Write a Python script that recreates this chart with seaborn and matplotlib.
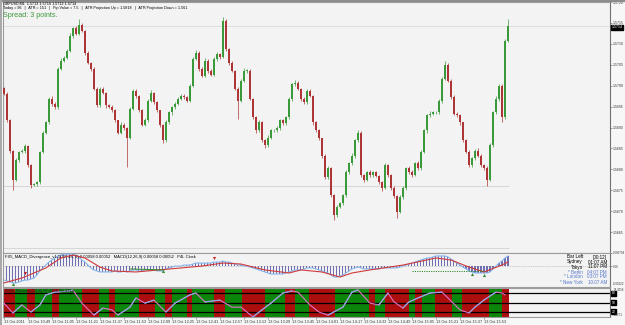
import matplotlib
matplotlib.use("Agg")
import numpy as np
import pandas as pd
import matplotlib.pyplot as plt
import matplotlib.transforms as mtransforms
from matplotlib.lines import Line2D
import seaborn as sns

# ---------------- data ----------------
symbol_line = "GBPUSD,M1  1.5713 1.5716 1.5712 1.5714"
info_line = ("Today = 96   |   ATR = 151   |   Pip Value = 7.5   |   "
             "ATR Projection Up = 1.5818   |   ATR Projection Down = 1.561")
spread_text = "Spread: 3 points."
macd_title = ("FX5_MACD_Divergence_v1.1(12, 26, 9) 0.00058 0.00052   "
              "MACD(12,26,9) 0.00058 0.00052   P4L Clock")
dss_title = "DSS_Bressert(13,8) 97.4256 94.4914"
start_time = "2011-10-13 10:33"
minutes_per_bar = 2

first_open = 1.56995
closes = [
    1.56981, 1.56917, 1.56845, 1.56774, 1.56822, 1.56841, 1.56845, 1.56855, 1.56810, 1.56762,
    1.56764, 1.56769, 1.56841, 1.56886, 1.56912, 1.56969, 1.56957, 1.56948, 1.57041, 1.57060,
    1.57067, 1.57083, 1.57119, 1.57138, 1.57124, 1.57145, 1.57131, 1.57079, 1.57055, 1.57041,
    1.56993, 1.56953, 1.56993, 1.56983, 1.56953, 1.56950, 1.56941, 1.56917, 1.56888, 1.56907,
    1.56898, 1.56876, 1.56945, 1.56988, 1.56976, 1.56941, 1.56907, 1.56917, 1.56964, 1.56983,
    1.56960, 1.56941, 1.56905, 1.56869, 1.56912, 1.56936, 1.56948, 1.56957, 1.56969, 1.56976,
    1.56974, 1.56964, 1.57000, 1.57064, 1.57079, 1.57041, 1.57024, 1.57060, 1.57036, 1.57026,
    1.57064, 1.57076, 1.57069, 1.57155, 1.57088, 1.57055, 1.57036, 1.56993, 1.56964, 1.57012,
    1.57036, 1.57036, 1.56969, 1.56924, 1.56893, 1.56912, 1.56869, 1.56857, 1.56876, 1.56893,
    1.56893, 1.56898, 1.56917, 1.56910, 1.56924, 1.56969, 1.57003, 1.57007, 1.56993, 1.56969,
    1.56960, 1.56988, 1.56976, 1.56912, 1.56893, 1.56874, 1.56833, 1.56781, 1.56803, 1.56738,
    1.56691, 1.56710, 1.56719, 1.56738, 1.56793, 1.56815, 1.56833, 1.56869, 1.56888, 1.56786,
    1.56774, 1.56793, 1.56786, 1.56793, 1.56784, 1.56769, 1.56755, 1.56810, 1.56786, 1.56755,
    1.56736, 1.56698, 1.56733, 1.56755, 1.56803, 1.56793, 1.56786, 1.56815, 1.56803, 1.56841,
    1.56893, 1.56929, 1.56933, 1.56936, 1.56936, 1.56964, 1.57017, 1.57050, 1.57012, 1.56972,
    1.56933, 1.56929, 1.56912, 1.56869, 1.56841, 1.56810, 1.56826, 1.56845, 1.56833, 1.56810,
    1.56803, 1.56774, 1.56857, 1.56936, 1.56969, 1.57000, 1.56924, 1.57107, 1.57143,
]
# wick lengths above / below the body, in points (0.00001)
wick_up_pts = [
    3, 4, 3, 2, 5, 3, 4, 6, 3, 2,   4, 3, 2, 5, 3, 4, 6, 3, 4, 5,
    3, 4, 6, 3, 5, 15, 4, 3, 5, 2,  4, 3, 5, 4, 3, 2, 4, 3, 2, 5,
    3, 4, 5, 3, 4, 2, 3, 5, 4, 6,   3, 4, 2, 3, 5, 4, 3, 4, 5, 3,
    4, 2, 5, 4, 6, 3, 4, 5, 3, 4,   5, 4, 3, 8, 4, 3, 5, 2, 4, 5,
    6, 3, 4, 2, 3, 5, 3, 4, 6, 3,   4, 5, 3, 4, 3, 5, 4, 6, 3, 2,
    4, 5, 3, 2, 4, 3, 2, 4, 5, 3,   4, 5, 3, 4, 5, 3, 6, 4, 5, 3,
    4, 3, 5, 4, 3, 2, 4, 6, 3, 2,   4, 3, 5, 4, 3, 4, 5, 3, 4, 5,
    3, 4, 6, 3, 4, 5, 4, 10, 3, 4,  5, 3, 4, 2, 3, 5, 4, 3, 5, 4,
    3, 4, 5, 4, 6, 4, 3, 5, 17,
]
wick_dn_pts = [
    4, 3, 5, 24, 3, 4, 3, 5, 4, 7,  3, 5, 4, 3, 2, 4, 5, 3, 4, 3,
    4, 3, 2, 5, 3, 4, 3, 5, 4, 6,   3, 5, 4, 3, 6, 4, 3, 5, 4, 3,
    5, 71, 3, 4, 5, 3, 4, 3, 5, 4,  3, 5, 4, 6, 3, 4, 5, 3, 4, 3,
    5, 4, 3, 4, 3, 5, 4, 3, 6, 4,   3, 4, 5, 3, 4, 5, 3, 4, 43, 3,
    4, 5, 3, 4, 6, 3, 4, 5, 3, 4,   3, 4, 5, 3, 4, 3, 5, 4, 3, 5,
    4, 3, 4, 5, 3, 4, 6, 5, 4, 5,   12, 4, 3, 5, 4, 3, 4, 5, 3, 4,
    5, 3, 4, 5, 3, 4, 6, 3, 4, 5,   4, 14, 3, 4, 5, 3, 4, 3, 5, 4,
    3, 5, 4, 3, 4, 3, 5, 4, 3, 5,   4, 3, 5, 4, 3, 5, 4, 3, 4, 5,
    4, 14, 3, 4, 3, 5, 12, 4, 3,
]
current_price = 1.5714
bid_line = 1.57143
level_lines = [1.56760, 1.56612]
price_ticks = [1.5665, 1.5670, 1.5675, 1.5680, 1.5685, 1.5690, 1.5695,
               1.5700, 1.5705, 1.5710, 1.5715, 1.5720]

macd = [
    -0.00081, -0.00086, -0.00092, -0.00098, -0.00098, -0.00092, -0.00086, -0.00081, -0.00081, -0.00075,
    -0.00069, -0.00051, -0.00027, -0.00009, 0.00008, 0.00026, 0.00038, 0.00050, 0.00062, 0.00067,
    0.00073, 0.00073, 0.00073, 0.00073, 0.00067, 0.00056, 0.00038, 0.00026, 0.00008, -0.00009,
    -0.00021, -0.00027, -0.00033, -0.00033, -0.00033, -0.00033, -0.00033, -0.00027, -0.00033, -0.00033,
    -0.00027, -0.00033, -0.00027, -0.00021, -0.00021, -0.00027, -0.00027, -0.00021, -0.00021, -0.00021,
    -0.00021, -0.00027, -0.00027, -0.00027, -0.00015, -0.00009, -0.00004, 0.00002, 0.00002, 0.00002,
    0.00008, 0.00008, 0.00008, 0.00014, 0.00020, 0.00020, 0.00020, 0.00020, 0.00020, 0.00020,
    0.00026, 0.00026, 0.00026, 0.00032, 0.00026, 0.00026, 0.00020, 0.00014, 0.00008, 0.00008,
    0.00002, 0.00002, -0.00004, -0.00009, -0.00015, -0.00021, -0.00027, -0.00033, -0.00039, -0.00045,
    -0.00045, -0.00045, -0.00045, -0.00045, -0.00039, -0.00033, -0.00027, -0.00021, -0.00021, -0.00021,
    -0.00015, -0.00009, -0.00009, -0.00009, -0.00015, -0.00021, -0.00027, -0.00033, -0.00039, -0.00051,
    -0.00063, -0.00063, -0.00057, -0.00051, -0.00039, -0.00027, -0.00015, -0.00009, -0.00004, -0.00009,
    -0.00015, -0.00015, -0.00015, -0.00015, -0.00015, -0.00015, -0.00009, -0.00009, -0.00009, -0.00009,
    -0.00009, -0.00009, -0.00004, 0.00002, 0.00008, 0.00014, 0.00020, 0.00026, 0.00032, 0.00038,
    0.00044, 0.00050, 0.00050, 0.00056, 0.00062, 0.00062, 0.00062, 0.00062, 0.00056, 0.00044,
    0.00032, 0.00020, 0.00008, -0.00004, -0.00015, -0.00027, -0.00033, -0.00039, -0.00039, -0.00039,
    -0.00039, -0.00039, -0.00033, -0.00015, 0.00002, 0.00020, 0.00032, 0.00050, 0.00062,
]
signal_bar = [0, 6, 14, 19, 23, 27, 32, 36, 44, 66, 73, 79, 87, 95, 99, 106, 112,
              116, 122, 133, 144, 149, 155, 160, 166, 168]
signal_val = [-0.00098, -0.00069, -0.00009, 0.00050, 0.00067, 0.00050, -0.00004,
              -0.00027, -0.00033, 0.00002, 0.00020, 0.00014, -0.00021, -0.00039,
              -0.00021, -0.00033, -0.00063, -0.00039, -0.00021, 0.00008, 0.00050,
              0.00038, -0.00004, -0.00033, 0.00008, 0.00026]
arrow_up_bar = [3, 53, 156, 160]
arrow_up_val = [-0.00104, -0.00027, -0.00045, -0.00051]
arrow_dn_bar = [7, 70]
arrow_dn_val = [-0.00039, 0.00050]
div_solid_bar = [42, 53]
div_solid_val = [-0.00015, -0.00021]
div_dot_bar = [136, 160]
div_dot_val = [-0.00027, -0.00027]
macd_top, macd_bottom = 0.000794, -0.00122

osc_bar = [0, 3, 6, 9, 12, 14, 17, 22, 23, 26, 30, 33, 36, 38, 42, 44, 47, 50, 54,
           57, 62, 64, 67, 72, 76, 79, 83, 86, 89, 93, 96, 98, 102, 105, 108, 113,
           116, 118, 122, 125, 128, 130, 133, 135, 138, 142, 146, 148, 152, 155,
           157, 160, 164, 166, 167]
osc_val = [48, 16, 42, 19, 42, 75, 84, 88, 91, 48, 9, 32, 26, 9, 35, 65, 48, 58, 19,
           48, 75, 81, 52, 58, 35, 35, 3, 26, 48, 81, 88, 84, 42, 19, 9, 35,
           84, 91, 48, 42, 81, 52, 32, 52, 65, 81, 84, 65, 26, 16,
           35, 58, 84, 81, 75]
osc_levels = [80, 50, 20]
osc_top, osc_bottom = 97.4256, 2.8271
band_edges = [-0.7, 3.7, 7.7, 10.3, 16, 18.3, 26, 31.7, 35, 37, 45, 50.3, 53.7, 56,
              61, 62.7, 70, 73.7, 79.3, 87, 93.7, 97, 101.7, 110.3, 121.7, 123.7,
              127, 135, 137, 139.3, 143.7, 149.3, 152.7, 161.7, 166, 168.5]
band_state = ["dn", "up", "dn", "up", "dn", "up", "dn", "up", "dn", "up", "dn", "up",
              "dn", "up", "dn", "up", "dn", "up", "dn", "up", "dn", "up", "dn", "up",
              "dn", "up", "dn", "up", "dn", "up", "dn", "up", "dn", "up", "dn"]

tick_labels = ["13 Oct 2011", "13 Oct 10:49", "13 Oct 11:05", "13 Oct 11:21",
               "13 Oct 11:37", "13 Oct 11:53", "13 Oct 12:09", "13 Oct 12:25",
               "13 Oct 12:41", "13 Oct 12:57", "13 Oct 13:13", "13 Oct 13:29",
               "13 Oct 13:45", "13 Oct 14:01", "13 Oct 14:17", "13 Oct 14:33",
               "13 Oct 14:49", "13 Oct 15:05", "13 Oct 15:21", "13 Oct 15:37",
               "13 Oct 15:53"]
label_every_minutes = 16

clock_names = ["Bar Left", "Sydney", "Tokyo", "* Berlin", "* London", "* New York"]
clock_values = ["[00:12]", "01:07 AM", "11:07 PM", "04:07 PM", "03:07 PM", "10:07 AM"]
clock_local = [True, True, True, False, False, False]

# ---------------- styling ----------------
sns.set_theme(style="white")
plt.rcParams["font.family"] = ["Liberation Sans", "DejaVu Sans"]

BG = "#f3f3f3"
BULL, BEAR = "#3a9a3a", "#ad3535"
SPINE = "#9c9c9c"
TXT = "#333333"
TICK_FS = 2.5

n = len(closes)
bars = np.arange(n)
opens = [first_open] + closes[:-1]
df = pd.DataFrame({"bar": bars, "open": opens, "close": closes,
                   "up": wick_up_pts, "dn": wick_dn_pts, "macd": macd})
df["high"] = df[["open", "close"]].max(axis=1) + df["up"] * 1e-5
df["low"] = df[["open", "close"]].min(axis=1) - df["dn"] * 1e-5
df["bull"] = df["close"] >= df["open"]
df["time"] = pd.date_range(start_time, periods=n, freq=f"{minutes_per_bar}min")

W, H = 625, 325
fig = plt.figure(figsize=(W / 100, H / 100), dpi=100, facecolor="#f7f7f7")


def frame(top_px, bottom_px):
    return [3 / W, 1 - bottom_px / H, (610 - 3) / W, (bottom_px - top_px) / H]


ax_p = fig.add_axes(frame(2, 253))
ax_m = fig.add_axes(frame(253, 287))
ax_s = fig.add_axes(frame(288, 317))
XL = (-0.3, 202.0)

for ax in (ax_p, ax_m, ax_s):
    ax.set_facecolor(BG)
    ax.set_xlim(*XL)
    for s in ax.spines.values():
        s.set_color(SPINE)
        s.set_linewidth(0.8)
    ax.spines["right"].set_color("#707070")
    ax.tick_params(axis="y", which="both", left=False, labelleft=False,
                   right=True, labelright=True, length=1.5, width=0.5,
                   labelsize=TICK_FS, labelcolor=TXT, pad=0.8, color="#707070")
    ax.tick_params(axis="x", bottom=False, labelbottom=False)

# ---------------- price panel ----------------
ax_p.set_ylim(1.56600, 1.57197)
ax_p.axhline(bid_line, color="#dadada", lw=0.6, zorder=1)
for lv in level_lines:
    ax_p.hlines(lv, XL[0], n - 0.5, color="#d2d2d2", lw=0.6, zorder=1)
col = np.where(df["bull"], BULL, BEAR)
ax_p.vlines(df["bar"], df["low"], df["high"], colors=col, lw=0.5, zorder=2)
body = (df["close"] - df["open"]).to_numpy()
body = np.where(np.abs(body) < 2e-6, 1.5e-5, body)
ax_p.bar(df["bar"], body, bottom=df["open"], width=0.55, color=col,
         edgecolor="none", zorder=3)
ax_p.set_yticks(price_ticks)
ax_p.set_yticklabels([f"{t:.4f}" for t in price_ticks])
trans = mtransforms.blended_transform_factory(ax_p.transAxes, ax_p.transData)
ax_p.text(1.003, current_price, f"{current_price:.4f}", transform=trans,
          ha="left", va="center", fontsize=TICK_FS, color="white",
          bbox=dict(boxstyle="square,pad=0.12", fc="black", ec="black"), zorder=10)

fig.text(3 / W, 1 - 3.5 / H, symbol_line, fontsize=2.7, color="black", va="center")
fig.text(3 / W, 1 - 8.5 / H, info_line, fontsize=2.7, color="black", va="center")
fig.text(3 / W, 1 - 15.5 / H, spread_text, fontsize=5.2, color="#3c9a3c", va="center")

# ---------------- MACD panel ----------------
ax_m.set_ylim(macd_bottom, macd_top)
ax_m.axhline(0, color="#a0a0a0", lw=0.5, ls=(0, (1, 1.5)), zorder=1)
ax_m.bar(df["bar"], df["macd"], width=0.35, color="#6e6eb0", edgecolor="none", zorder=2)
sns.lineplot(data=df, x="bar", y="macd", ax=ax_m, color="#86b6ec", lw=0.8, zorder=3)
sns.lineplot(x=signal_bar, y=signal_val, ax=ax_m, color="#d03a3a", lw=0.8, zorder=4)
ax_m.plot(div_solid_bar, div_solid_val, color="#2e8b2e", lw=0.7, zorder=4)
ax_m.plot(div_dot_bar, div_dot_val, color="#2e8b2e", lw=0.7, ls=(0, (1.2, 1.2)), zorder=4)
ax_m.scatter(arrow_up_bar, arrow_up_val, marker="^", s=5, color="#2e8b2e", zorder=5, lw=0)
ax_m.scatter(arrow_dn_bar, arrow_dn_val, marker="v", s=5, color="#c02020", zorder=5, lw=0)
ax_m.set_yticks([macd_top, 0])
ax_m.set_yticklabels([f"{macd_top:.6f}", "0.00"])
ax_m.tick_params(axis="y", labelsize=2.1)
ax_m.text(1.005, 0.04, f"{macd_bottom:.5f}", transform=ax_m.transAxes,
          fontsize=2.1, color=TXT, ha="left", va="bottom")
ax_m.set_xlabel("")
ax_m.set_ylabel("")
ax_m.text(0.003, 0.93, macd_title, transform=ax_m.transAxes, fontsize=3.0,
          color="black", va="top", ha="left")
row_y = [257, 262, 267, 272, 277, 282]
for name, val, loc, yy in zip(clock_names, clock_values, clock_local, row_y):
    c = "black" if loc else "#5577cc"
    fig.text(583 / W, 1 - yy / H, name, fontsize=3.3, color=c, ha="right", va="center")
    fig.text(607 / W, 1 - yy / H, val, fontsize=3.3, color=c, ha="right", va="center")

# ---------------- DSS panel ----------------
ax_s.set_ylim(osc_bottom, osc_top)
for a, b, st in zip(band_edges[:-1], band_edges[1:], band_state):
    ax_s.axvspan(a, b, color="#0b860b" if st == "up" else "#ac0e0e", lw=0, zorder=1)
for lv in osc_levels:
    ax_s.axhline(lv, color="black", lw=0.9, zorder=2)
    ax_s.annotate(str(lv), xy=(1.0, lv), xycoords=("axes fraction", "data"),
                  xytext=(1.2, 0), textcoords="offset points", fontsize=2.4,
                  color="white", va="center", ha="left", annotation_clip=False,
                  bbox=dict(boxstyle="square,pad=0.12", fc="black", ec="black"))
sns.lineplot(x=osc_bar, y=osc_val, ax=ax_s, color="#e072c8", lw=0.8, zorder=3)
for i in range(len(osc_bar) - 1):
    if osc_val[i + 1] > osc_val[i]:
        ax_s.plot(osc_bar[i:i + 2], osc_val[i:i + 2], color="#8fa8e6", lw=0.8, zorder=4)
ax_s.set_yticks([])
ax_s.text(1.006, 1.0, f"{osc_top:.4f}", transform=ax_s.transAxes,
          fontsize=2.1, color=TXT, ha="left", va="top")
ax_s.text(1.006, 0.0, f"{osc_bottom:.4f}", transform=ax_s.transAxes,
          fontsize=2.1, color=TXT, ha="left", va="bottom")
ax_s.set_xlabel("")
ax_s.set_ylabel("")
ax_s.text(0.003, 0.97, dss_title, transform=ax_s.transAxes, fontsize=3.0,
          color="#202020", va="top", ha="left", zorder=6)

mins = ((df["time"] - df["time"].iloc[0]).dt.total_seconds() / 60).astype(int)
tick_pos = df["bar"][mins % label_every_minutes == 0].to_numpy()[:len(tick_labels)]
ax_s.set_xticks(tick_pos)
ax_s.set_xticklabels(tick_labels, ha="left")
ax_s.tick_params(axis="x", bottom=True, labelbottom=True, length=1.5, width=0.5,
                 labelsize=2.8, labelcolor=TXT, pad=0.8, color="#707070")

# borders of the terminal window
fig.add_artist(Line2D([0, 1], [1 - 0.8 / H, 1 - 0.8 / H], color="#8c8c8c", lw=1.6))
fig.add_artist(Line2D([1 / W, 1 / W], [0, 1], color="#a8a8a8", lw=1.4))

fig.savefig("out.png", dpi=100, facecolor=fig.get_facecolor())
